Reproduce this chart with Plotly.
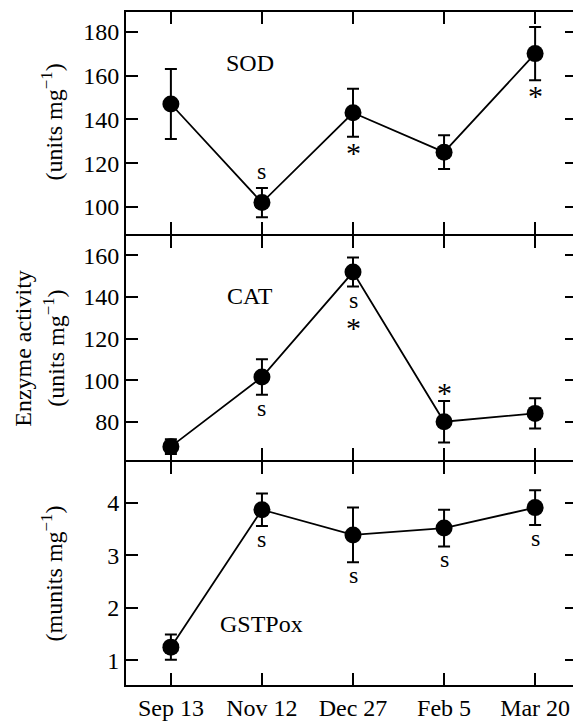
import plotly.graph_objects as go
from plotly.subplots import make_subplots

# Probenahmetermine
dates = ["Sep 13", "Nov 12", "Dec 27", "Feb 5", "Mar 20"]

# SOD (units mg-1)
sod_mean = [147, 102, 143, 125, 170]
sod_err = [16, 6.7, 11, 7.7, 12.2]
sod_marks = ["", "s", "*", "", "*"]
sod_side = ["", "above", "below", "", "below"]

# CAT (units mg-1)
cat_mean = [68, 101.5, 152, 80, 84]
cat_err = [3.5, 8.5, 7, 10, 7.3]
cat_marks = ["", "s", "s*", "*", ""]
cat_side = ["", "below", "below", "above", ""]

# GSTPox (munits mg-1)
gst_mean = [1.25, 3.87, 3.39, 3.52, 3.91]
gst_err = [0.24, 0.31, 0.52, 0.35, 0.33]
gst_marks = ["", "s", "s", "s", "s"]
gst_side = ["", "below", "below", "below", "below"]

FONT = "Liberation Serif"
FS = 24

fig = make_subplots(rows=3, cols=1, shared_xaxes=True, vertical_spacing=0)

# Panel: Daten, Beschriftung, Position der Beschriftung, y-Bereich, Ticks, Domain
panels = [
    (sod_mean, sod_err, sod_marks, sod_side, "SOD", 0.87, 165.5, [87.8, 189.0], [100, 120, 140, 160, 180], [0.6706, 1]),
    (cat_mean, cat_err, cat_marks, cat_side, "CAT", 0.87, 140.6, [61.4, 169.5], [80, 100, 120, 140, 160], [0.3338, 0.6676]),
    (gst_mean, gst_err, gst_marks, gst_side, "GSTPox", 1.0, 1.70, [0.528, 4.774], [1, 2, 3, 4], [0, 0.3309]),
]

# Verschiebung (px) und Schriftgröße je Zeichen relativ zum Fehlerbalkenende
shift = {("s", "below"): 1, ("*", "below"): 2, ("s", "above"): 2.5, ("*", "above"): -9}
size = {"s": FS, "*": 30}

for row, (mean, err, marks, side, label, lx, ly, yr, ticks, dom) in enumerate(panels, start=1):
    fig.add_trace(go.Scatter(
        x=dates, y=mean, mode="lines+markers",
        line=dict(color="black", width=1.8),
        marker=dict(size=17, color="black"),
        error_y=dict(type="data", array=err, visible=True, color="black", thickness=2, width=6),
        showlegend=False), row=row, col=1)

    fig.add_annotation(x=lx, y=ly, text=label, showarrow=False,
                       font=dict(family=FONT, size=FS, color="black"), row=row, col=1)

    for i, m in enumerate(marks):
        for k, ch in enumerate(m):
            if side[i] == "below":
                y = mean[i] - err[i]
                ys = shift[(ch, "below")] if k == 0 else -23
                anchor = "top"
            else:
                y = mean[i] + err[i]
                ys = shift[(ch, "above")] if k == 0 else 23
                anchor = "bottom"
            fig.add_annotation(x=i, y=y, text=ch, showarrow=False, yanchor=anchor, yshift=ys,
                               borderpad=0,
                               font=dict(family=FONT, size=size[ch], color="black"),
                               row=row, col=1)

    fig.update_yaxes(range=yr, tickvals=ticks, domain=dom, row=row, col=1)

axis_style = dict(showline=True, linecolor="black", linewidth=2, mirror="ticks",
                  ticks="inside", ticklen=12, tickwidth=2, tickcolor="black",
                  showgrid=False, zeroline=False,
                  tickfont=dict(family=FONT, size=FS, color="black"))
fig.update_xaxes(**axis_style, range=[-0.493, 4.46])
fig.update_yaxes(**axis_style)

# Achsentitel
titles = [("(units mg<sup>−1</sup>)", -0.1637, 0.836),
          ("Enzyme activity", -0.230, 0.5),
          ("(units mg<sup>−1</sup>)", -0.1615, 0.5),
          ("(munits mg<sup>−1</sup>)", -0.1637, 0.166)]
for text, x, y in titles:
    fig.add_annotation(x=x, y=y, xref="paper", yref="paper", text=text, textangle=-90,
                       showarrow=False, xanchor="center", yanchor="middle",
                       font=dict(family=FONT, size=FS, color="black"))

# Seite hat 8px Rand -> Figur entsprechend kleiner
fig.update_layout(
    width=573, height=715,
    margin=dict(l=118, r=3, t=2, b=33),
    plot_bgcolor="white", paper_bgcolor="white",
    font=dict(family=FONT, size=FS, color="black"),
)

fig.write_html("out.html")
